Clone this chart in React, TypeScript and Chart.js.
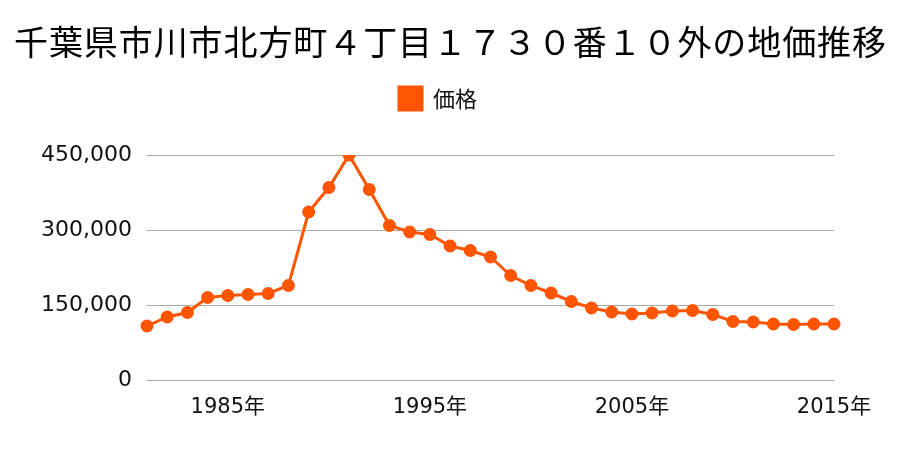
import React, { useEffect, useRef } from "react";
import { Chart, registerables } from "chart.js";

Chart.register(...registerables);

const TITLE = "千葉県市川市北方町４丁目１７３０番１０外の地価推移";
const SERIES_LABEL = "価格";
const YEARS = [
  "1981", "1982", "1983", "1984", "1985", "1986", "1987", "1988", "1989", "1990",
  "1991", "1992", "1993", "1994", "1995", "1996", "1997", "1998", "1999", "2000",
  "2001", "2002", "2003", "2004", "2005", "2006", "2007", "2008", "2009", "2010",
  "2011", "2012", "2013", "2014", "2015",
];
const PRICES = [
  108000, 126000, 135000, 165000, 169000, 171000, 173000, 189000, 336000, 385000,
  450000, 381000, 309000, 296000, 291000, 268000, 259000, 246000, 209000, 189000,
  174000, 157000, 144000, 136000, 132000, 134000, 138000, 139000, 131000, 117000,
  116000, 112000, 111000, 112000, 112000,
];
const SHOWN_YEARS = ["1985", "1995", "2005", "2015"];
const Y_TICKS = [0, 150000, 300000, 450000];

const COLOR = "#ff5500";

const titlePlugin = {
  id: "spacedTitle",
  afterDraw(chart: any) {
    const ctx = chart.ctx;
    ctx.save();
    ctx.font = '34px "Noto Sans CJK JP"';
    ctx.fillStyle = "#000";
    ctx.textAlign = "left";
    ctx.textBaseline = "middle";
    const chars = Array.from(TITLE);
    const widths = chars.map((c) => ctx.measureText(c).width);
    const total = widths.reduce((a, b) => a + b, 0);
    const left = 14;
    const right = 886;
    const gap = (right - left - total) / (chars.length - 1);
    let x = left;
    chars.forEach((c, i) => {
      ctx.fillText(c, x, 42);
      x += widths[i] + gap;
    });
    ctx.restore();
  },
};

const legendSpacer = {
  id: "legendSpacer",
  beforeInit(chart: any) {
    const legend = chart.legend;
    if (!legend) return;
    const origFit = legend.fit;
    legend.fit = function () {
      origFit.call(this);
      this.height += 35;
    };
  },
};

export default function App() {
  const ref = useRef<HTMLCanvasElement | null>(null);

  useEffect(() => {
    if (!ref.current) return;
    const chart = new Chart(ref.current, {
      type: "line",
      data: {
        labels: YEARS,
        datasets: [
          {
            label: SERIES_LABEL,
            data: PRICES,
            borderColor: COLOR,
            backgroundColor: COLOR,
            borderWidth: 3,
            pointRadius: 5,
            pointBackgroundColor: COLOR,
            pointBorderColor: COLOR,
            tension: 0,
            yAxisID: "y",
          },
        ],
      },
      options: {
        animation: false,
        responsive: true,
        maintainAspectRatio: false,
        layout: { padding: { top: 77, right: 24, left: 0, bottom: 0 } },
        plugins: {
          title: { display: false },
          tooltip: { enabled: false },
          legend: {
            display: true,
            position: "top",
            labels: {
              boxWidth: 23,
              boxHeight: 23,
              padding: 10,
              color: "#111",
              font: { size: 22, family: '"Noto Sans CJK JP"' },
            },
          },
        },
        scales: {
          x: {
            type: "category",
            offset: false,
            grid: { display: false },
            border: { display: false },
            ticks: {
              autoSkip: false,
              maxRotation: 0,
              padding: 7,
              color: "#111",
              font: { size: 21, family: '"DejaVu Sans", "Noto Sans CJK JP"' },
              callback: function (this: any, value: any) {
                const y = YEARS[value as number];
                return SHOWN_YEARS.includes(y) ? y + "年" : "";
              },
            },
            afterFit(scale: any) {
              scale.height = 70;
            },
          },
          y: {
            position: "left",
            min: 0,
            max: 450000,
            afterBuildTicks(scale: any) {
              scale.ticks = Y_TICKS.map((v) => ({ value: v }));
            },
            grid: { color: "#aaaaaa", lineWidth: 1, drawTicks: false },
            border: { display: false },
            ticks: {
              padding: 15,
              color: "#111",
              font: { size: 22, family: '"DejaVu Sans", "Noto Sans CJK JP"' },
              callback: (v: any) => Number(v).toLocaleString("en-US"),
            },
            afterFit(scale: any) {
              scale.width = 147;
            },
          },
          yRight: {
            position: "right",
            display: true,
            grid: { display: false },
            border: { display: false },
            ticks: { display: false },
            afterFit(scale: any) {
              scale.width = 42;
            },
          },
        },
      },
      plugins: [titlePlugin, legendSpacer],
    });
    return () => chart.destroy();
  }, []);

  return (
    <div style={{ position: "absolute", left: 0, top: 0, width: 900, height: 450 }}>
      <canvas ref={ref} />
    </div>
  );
}
